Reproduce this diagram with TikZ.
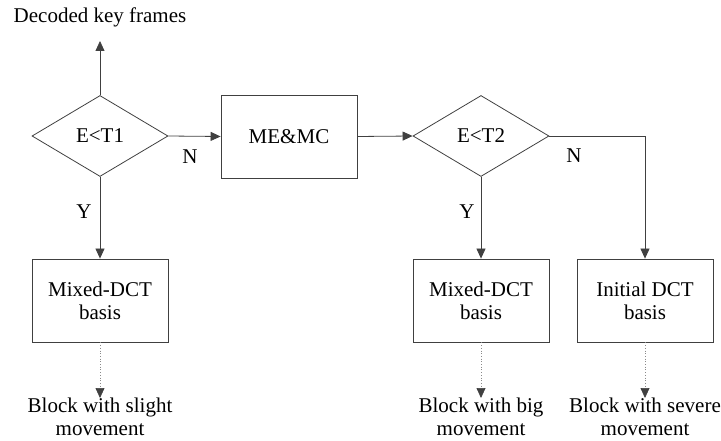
\documentclass[tikz,border=0pt]{standalone}
\usepackage{fontspec}
\setmainfont{Liberation Serif}
\usetikzlibrary{shapes.geometric,arrows.meta}
\definecolor{lc}{HTML}{404040}
\definecolor{dc}{HTML}{8A8A8A}
\begin{document}
\begin{tikzpicture}[x=1pt,y=-1pt,
  every node/.style={font=\fontsize{21}{23}\selectfont, text=black},
  dia/.style={draw=lc, line width=0.8pt, shape=diamond, inner sep=0pt, minimum width=136pt, minimum height=81pt, shape aspect=1.68},
  boxx/.style={draw=lc, line width=0.8pt, minimum width=136pt, minimum height=83pt, align=center, inner sep=0pt},
  lbl/.style={align=center, inner sep=0pt},
  arr/.style={draw=lc, line width=0.8pt, -{Triangle[length=10pt,width=9pt]}},
  darr/.style={draw=dc, line width=0.7pt, dotted, -{Triangle[length=10pt,width=9pt,fill=lc,color=lc,sep=0pt]}}
]
\useasboundingbox (0,0) rectangle (721,441);
\node[dia] (d1) at (100,136) {E<T1};
\node[boxx] (me) at (289,136.5) {ME\&MC};
\node[dia] (d2) at (481,136) {E<T2};
\node[boxx] (b1) at (100,300.5) {Mixed-DCT\\basis};
\node[boxx] (b2) at (481,300.5) {Mixed-DCT\\basis};
\node[boxx] (b3) at (645,300.5) {Initial DCT\\basis};
\node[lbl] (top) at (100,17) {Decoded key frames};
\coordinate (topend) at (100,41);
\node[lbl, anchor=north] (o1) at (100,398) {Block with slight\\movement};
\node[lbl, anchor=north] (o2) at (481,398) {Block with big\\movement};
\node[lbl, anchor=north] (o3) at (645,398) {Block with severe\\movement};
\coordinate (corner) at (645,136);
\draw[arr] (d1.north) -- (topend);
\draw[arr] (d1.east) -- (me.west);
\draw[arr] (me.east) -- (d2.west);
\draw[arr] (d1.south) -- (b1.north);
\draw[arr] (d2.south) -- (b2.north);
\draw[arr] (d2.east) -- (corner) -- (b3.north);
\draw[darr] (b1.south) -- (o1.north);
\draw[darr] (b2.south) -- (o2.north);
\draw[darr] (b3.south) -- (o3.north);
\node[lbl] (n1) at (190,157) {N};
\node[lbl] (n2) at (574,156) {N};
\node[lbl] (y1) at (84,212) {Y};
\node[lbl] (y2) at (467,212) {Y};
\end{tikzpicture}
\end{document}
